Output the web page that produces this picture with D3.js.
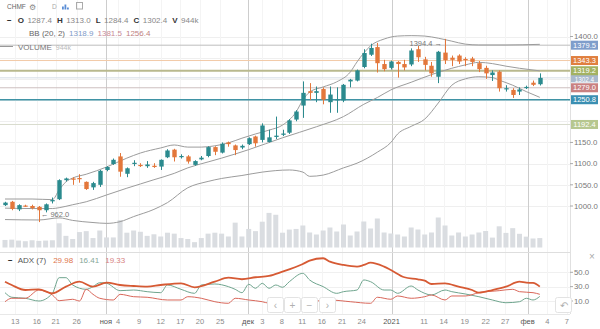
<!DOCTYPE html>
<html><head><meta charset="utf-8">
<script src="https://cdn.jsdelivr.net/npm/d3@7"></script>
<style>
html,body{margin:0;padding:0;background:#fff;}
svg{display:block;font-family:"Liberation Sans",Arial,sans-serif;}
</style></head><body>
<svg id="c" width="600" height="329"></svg>
<script>
// ---------- data ----------
const opens = [1002,1010,992,1001,1000,998,990,1011,1016,1061, 1065,1066,1057,1044,1050,1085,1099,1117,1076,1100, 1097,1094,1095,1093,1115,1133,1117,1117,1097,1110, 1118,1139,1126,1150,1143,1138,1146,1164,1156,1151, 1163,1168,1173,1204,1237,1271,1267,1276,1245,1250, 1249,1294,1296,1328,1357,1375,1335,1326,1340,1335, 1334,1370,1346,1331,1305,1362,1350,1355,1347,1348, 1337,1326,1309,1317,1276,1274,1270,1279,1291,1287.4];
const highs = [1010,1012,1004,1003,1003,1000,1006,1020,1063,1067, 1068,1075,1058,1057,1085,1094,1112,1125,1091,1108, 1101,1106,1101,1110,1134,1135,1122,1120,1108,1118, 1141,1141,1150,1152,1145,1145,1162,1166,1195,1180, 1211,1180,1205,1226,1294,1290,1282,1280,1282,1280, 1288,1300,1322,1370,1383,1385,1345,1343,1342,1345, 1372,1378,1352,1340,1366,1394.4,1355,1358,1351,1352, 1342,1331,1320,1320,1285,1278,1280,1284,1296,1313.0];
const lows = [1000,990,988,998,992,962,985,1006,1014,1058, 1050,1055,1038,1038,1045,1082,1097,1069,1068,1094, 1092,1090,1090,1085,1113,1105,1112,1100,1095,1108, 1115,1120,1124,1140,1120,1134,1144,1140,1150,1150, 1158,1165,1170,1200,1208,1250,1245,1240,1220,1220, 1245,1280,1294,1325,1354,1315,1318,1322,1303,1320, 1330,1340,1320,1305,1290,1335,1330,1335,1330,1330, 1316,1300,1295,1270,1270,1255,1262,1276,1283,1284.4];
const closes = [1008,993,1002,1000,995,990,1004,1014,1061,1065, 1062,1064,1040,1054,1083,1092,1109,1081,1089,1102, 1096,1098,1092,1109,1131,1115,1118,1105,1106,1114, 1139,1128,1147,1146,1132,1142,1160,1148,1190,1162, 1166,1171,1202,1223,1267,1267,1271,1251,1263,1252, 1286,1298,1320,1361,1373,1337,1323,1341,1335,1327, 1367,1351,1333,1313,1364,1344,1345,1341,1346,1340, 1323,1313,1315,1278,1278,1262,1275,1281,1286,1302.4];
const volumes = [755,786,692,629,724,661,692,724,2423,1164, 850,1542,1636,944,1699,1007,1007,2738,1479,1699, 1573,1164,1322,1101,1479,1385,944,850,535,944, 1385,1479,1385,1101,2486,1101,1856,1636,2580,3461, 3273,1479,1793,1856,2200,1500,1300,1700,2000,1600, 2300,1200,1600,2600,1900,2900,1500,1400,1300,1100, 2000,1800,1300,1500,3000,2200,1200,1500,1100,1300, 1500,1650,990,2120,1460,1935,1370,1085,900,944];

// Bollinger (20,2) read at sample bars: [bar index, value]
const bbUpper = [[0,1016.5],[4,1016.5],[7,1015],[8,1038],[9,1057],[10,1066],[12,1075],[15,1092],[18,1113],[20,1125],[23,1137],[25,1144],[27,1139],[29,1139],[31,1142],[33,1149],[35,1160],[37,1170],[39,1179],[41,1191],[43,1222],[44,1250],[45,1269],[47,1281],[49,1293],[51,1316],[52,1340],[53,1361],[54,1378],[56,1394],[58,1401],[60,1402],[62,1401],[64,1396],[66,1389],[68,1382],[70,1380],[74,1380],[79,1381.5]];
const bbMiddle = [[0,995],[4,994],[7,994],[8,996],[10,1003],[12,1010],[15,1026],[18,1042],[20,1052],[22,1062],[25,1077],[27,1090],[30,1104],[32,1113],[36,1133],[41,1161],[46,1187],[50,1211],[53,1240],[55,1256],[57,1274],[60,1292],[63,1310],[66,1325],[68,1333],[70,1339],[72,1336],[74,1330],[76,1325],[79,1318.9]];
const bbLower = [[0,968],[5,967],[8,972],[10,966],[13,961],[15,959],[17,963],[19,975],[22,992],[24,1008],[27,1043],[30,1058],[32,1065],[35,1072],[38,1080],[42,1085],[44,1080],[45,1070],[47,1073],[50,1090],[52,1101],[55,1127],[57,1150],[58,1170],[60,1188],[62,1205],[64,1243],[66,1285],[68,1300],[70,1305],[72,1303],[73,1297],[75,1285],[77,1270],[79,1256.4]];

// ADX (7) read at sample bars
const adxMain = [[0,36.9],[1,32.3],[3,25.3],[5,26.3],[7,20.7],[9,30],[11,36.9],[13,30],[15,35.5],[17,32.3],[19,30.9],[21,30],[23,32.3],[26,34.7],[28,29.1],[31,36.9],[33,42.5],[35,40.3],[37,43.1],[39,44.9],[41,50.9],[44,61.6],[45,66.2],[47,69.6],[48,64.8],[50,60.2],[52,57.9],[53,60.2],[54,63.4],[56,57.9],[57,53.3],[59,43.1],[61,40.3],[62,38.3],[63,33.7],[65,34.7],[67,30],[69,25.3],[70,21.6],[72,25.3],[74,30],[76,36.9],[77,35.5],[78,35.2],[79,29.98]];
const plusDI = [[0,21.6],[1,15.2],[3,13.8],[5,10],[7,20.7],[8,42.5],[9,42.5],[10,32.3],[12,26.3],[13,30],[14,35.5],[15,34.7],[17,24.4],[19,25.3],[21,23],[23,21.6],[24,32.3],[26,26.3],[28,20.7],[29,32.3],[31,33.7],[33,30],[34,26.3],[35,21.6],[36,33.3],[37,27.7],[38,34.7],[39,27.7],[40,32.3],[41,29.1],[42,36.9],[44,48.6],[45,39.3],[47,30],[49,20.7],[50,23],[52,25.3],[53,39.3],[54,36.9],[56,25.3],[57,25.3],[58,20.7],[60,30.9],[61,25.3],[63,18.4],[65,25.3],[66,23],[68,19.8],[70,16],[72,11.4],[74,7.6],[76,9],[77,13.8],[78,11.4],[79,16.41]];
const minusDI = [[0,9],[1,13.8],[3,13.8],[5,25.3],[7,18.4],[8,10.4],[10,12.4],[11,10],[12,26.3],[13,19.3],[14,13.8],[16,11.4],[17,19.3],[19,16],[21,15.2],[24,11.4],[26,11.4],[27,16],[29,13.8],[31,9],[33,6.8],[34,13.8],[36,11.4],[38,9],[39,7],[42,8],[45,9],[48,11.4],[51,9],[54,6.8],[55,15.2],[57,12.4],[58,17],[60,13.8],[62,16],[63,18.4],[65,11.4],[66,17],[68,17],[70,21.6],[73,24.4],[75,26.3],[76,23],[78,21.6],[79,19.33]];

// horizontal levels with right-edge labels
const levelValues = [1302.4,1379.5,1343.3,1319.2,1279.0,1250.8,1192.4];
const levelLine = ["#d5dce6","#bdbdbd","#f2cba8","#b9b98e","#cdbfbf","#3f93a5","#d8dccd"];
const levelBox  = ["#a9b9cc","#7f9dcb","#e07f3f","#a3b262","#c98181","#3b8fb2","#b7c78f"];
const levelWidth = [1,1,1,2,1,1.5,1];

// axis ticks
const priceTicks = [1000,1050,1100,1150,1400];
const priceGrid = [1000,1050,1100,1150,1200,1250,1300,1350,1400];
const adxTicks = [10,30,50];
const xTickLabels = ["13","16","21","26","ноя","4","9","12","17","20","25","дек","3","8","11","16","21","24","2021","11","14","19","22","27","фев","4","7"];
const xTickPos    = [1.5,4.7,7.5,10.6,14.9,16.7,19.8,23.0,25.9,28.8,31.8,35.9,38.0,40.9,43.9,46.8,49.8,52.7,57.1,61.9,64.8,67.9,71.0,73.9,77.2,80.1,83.0];
const monthLabels = ["ноя","дек","2021","фев"];

const lowLabel = {i:5, v:962.0};
const highLabel = {i:65, v:1394.4};

// ---------- drawing ----------
const svg = d3.select('#c');
const R = 570;
const x  = d3.scaleLinear().domain([0,79]).range([5,539.8]);
const y  = d3.scaleLinear().domain([1000,1400]).range([206,36.5]);
const yv = d3.scaleLinear().domain([0,4000]).range([247.5,207.5]);
const ya = d3.scaleLinear().domain([10,50]).range([301,272.3]);
const UP="#2b8a8e", DN="#e3773b";

// grids
const g = svg.append('g');
g.selectAll('.hg').data(priceGrid).join('line')
  .attr('x1',0).attr('x2',R).attr('y1',d=>Math.round(y(d))+.5).attr('y2',d=>Math.round(y(d))+.5)
  .attr('stroke','#efefef');
g.selectAll('.ag').data(adxTicks).join('line')
  .attr('x1',0).attr('x2',R).attr('y1',d=>Math.round(ya(d))+.5).attr('y2',d=>Math.round(ya(d))+.5)
  .attr('stroke','#f0f0f0');
const ticks = xTickLabels.map((t,k)=>({t, p:xTickPos[k], m:monthLabels.includes(t)}));
g.selectAll('.vg').data(ticks.filter(d=>!d.m && x(d.p)<R)).join('line')
  .attr('x1',d=>Math.round(x(d.p))+.5).attr('x2',d=>Math.round(x(d.p))+.5)
  .attr('y1',0).attr('y2',314).attr('stroke','#f4f4f4');
g.selectAll('.mg').data(ticks.filter(d=>d.m)).join('line')
  .attr('x1',d=>Math.round(x(d.p))+.5).attr('x2',d=>Math.round(x(d.p))+.5)
  .attr('y1',0).attr('y2',314).attr('stroke','#cdcdcd');

// pane borders
svg.append('line').attr('x1',0).attr('x2',R).attr('y1',252.5).attr('y2',252.5).attr('stroke','#dedede');
svg.append('line').attr('x1',0).attr('x2',R).attr('y1',314.5).attr('y2',314.5).attr('stroke','#e8e8e8');
svg.append('line').attr('x1',R+.5).attr('x2',R+.5).attr('y1',0).attr('y2',314).attr('stroke','#e0e0e0');

// volume
svg.append('g').selectAll('rect').data(volumes).join('rect')
  .attr('x',(d,i)=>x(i)-2.5).attr('width',5)
  .attr('y',d=>yv(d)).attr('height',d=>yv(0)-yv(d)).attr('fill','#dadde1');

// level lines
svg.append('g').selectAll('line').data(levelValues).join('line')
  .attr('x1',0).attr('x2',R).attr('y1',d=>y(d)).attr('y2',d=>y(d))
  .attr('stroke',(d,k)=>levelLine[k]).attr('stroke-width',(d,k)=>levelWidth[k]);

// bollinger
const bbl = d3.line().x(d=>x(d[0])).y(d=>y(d[1])).curve(d3.curveMonotoneX);
[bbUpper,bbMiddle,bbLower].forEach(s=>{
  svg.append('path').attr('d',bbl(s)).attr('fill','none').attr('stroke','#9c9c9c').attr('stroke-width',1);
});

// candles
const cd = opens.map((o,i)=>({i,o,h:highs[i],l:lows[i],c:closes[i]}));
const cg = svg.append('g');
cg.selectAll('line').data(cd).join('line')
  .attr('x1',d=>Math.round(x(d.i))+.5).attr('x2',d=>Math.round(x(d.i))+.5)
  .attr('y1',d=>y(d.h)).attr('y2',d=>y(d.l))
  .attr('stroke',d=>d.c>=d.o?UP:DN);
cg.selectAll('rect').data(cd).join('rect')
  .attr('x',d=>Math.round(x(d.i))-1.7).attr('width',4.4)
  .attr('y',d=>y(Math.max(d.o,d.c))).attr('height',d=>Math.max(1.2,Math.abs(y(d.o)-y(d.c))))
  .attr('fill',d=>d.c>=d.o?UP:DN);

// high / low annotations
svg.append('text').attr('x',x(lowLabel.i)+2).attr('y',y(lowLabel.v)-7.5).attr('dy','0.35em')
  .attr('font-size',7.5).attr('fill','#777').text('← '+lowLabel.v.toFixed(1));
svg.append('text').attr('x',x(highLabel.i)-3).attr('y',y(highLabel.v)+5).attr('dy','0.35em')
  .attr('text-anchor','end').attr('font-size',7.5).attr('fill','#777').text(highLabel.v.toFixed(1)+' →');

// ADX lines
const al = d3.line().x(d=>x(d[0])).y(d=>ya(d[1])).curve(d3.curveMonotoneX);
svg.append('path').attr('d',al(plusDI)).attr('fill','none').attr('stroke','#6fa58e').attr('stroke-width',1);
svg.append('path').attr('d',al(minusDI)).attr('fill','none').attr('stroke','#d9675a').attr('stroke-width',1);
svg.append('path').attr('d',al(adxMain)).attr('fill','none').attr('stroke','#d65a34').attr('stroke-width',1.8);

// right price axis
const ax = svg.append('g');
ax.selectAll('line').data(priceTicks).join('line')
  .attr('x1',R).attr('x2',R+3).attr('y1',d=>y(d)).attr('y2',d=>y(d)).attr('stroke','#aaa');
ax.selectAll('text').data(priceTicks).join('text')
  .attr('x',R+4).attr('y',d=>y(d)).attr('dy','0.35em').attr('font-size',7.8).attr('fill','#777')
  .text(d=>d.toFixed(1));
const ax2 = svg.append('g');
ax2.selectAll('line').data(adxTicks).join('line')
  .attr('x1',R).attr('x2',R+3).attr('y1',d=>ya(d)).attr('y2',d=>ya(d)).attr('stroke','#aaa');
ax2.selectAll('text').data(adxTicks).join('text')
  .attr('x',R+4).attr('y',d=>ya(d)).attr('dy','0.35em').attr('font-size',7.8).attr('fill','#777')
  .text(d=>d.toFixed(1));

// level label boxes (first one = last price, partly covered by the next box)
const lb = svg.append('g').selectAll('g').data(levelValues).join('g');
lb.append('rect').attr('x',R+1).attr('width',27).attr('y',d=>y(d)-4.5).attr('height',9)
  .attr('fill',(d,k)=>levelBox[k]);
lb.append('text').attr('x',R+14.5).attr('y',(d,k)=>y(d)+(k===0?1.8:0)).attr('dy','0.35em').attr('text-anchor','middle')
  .attr('font-size',(d,k)=>k===0?6.3:7.5).attr('fill','#fff').text(d=>d.toFixed(1));

// bottom axis labels
svg.append('g').selectAll('text').data(ticks).join('text')
  .attr('x',d=>x(d.p)).attr('y',321).attr('dy','0.35em').attr('text-anchor','middle')
  .attr('font-size',7.5).attr('fill',d=>d.m?'#555':'#8a8a8a').text(d=>d.t);

// legends
function row(items,x0,yb){
  let cx=x0;
  items.forEach(it=>{
    const t=svg.append('text').attr('x',cx).attr('y',yb).attr('font-size',it.s||8)
      .attr('fill',it.c).attr('font-weight',it.b?'bold':null).text(it.t);
    cx += t.node().getComputedTextLength() + (it.g==null?4:it.g);
  });
}
row([{t:'CHMF',c:'#666',s:6.5}],7,9);
row([{t:'⚙',c:'#888',s:8}],29,9.5);
row([{t:'D',c:'#aaa',s:6.5}],52,9);
svg.append('g').selectAll('rect').data([3,5,2]).join('rect')
  .attr('x',(d,k)=>62+k*2.5).attr('width',1.8).attr('y',d=>9.5-d).attr('height',d=>d).attr('fill','#5b8ed6');
svg.append('rect').attr('x',76.5).attr('y',2.5).attr('width',6).attr('height',6.5).attr('fill','none').attr('stroke','#aaa');

const last = 79;
row([{t:'−',c:'#222',b:1,g:6},{t:'O',c:'#333',b:1,g:3.5},{t:opens[last].toFixed(1),c:'#888',g:5},
     {t:'H',c:'#333',b:1,g:3.5},{t:highs[last].toFixed(1),c:'#888',g:5},
     {t:'L',c:'#333',b:1,g:3.5},{t:lows[last].toFixed(1),c:'#888',g:5},
     {t:'C',c:'#333',b:1,g:3.5},{t:closes[last].toFixed(1),c:'#888',g:5},
     {t:'V',c:'#333',b:1,g:3.5},{t:volumes[last]+'k',c:'#888'}],7,22.5);
row([{t:'BB (20, 2)',c:'#666'},{t:bbMiddle[bbMiddle.length-1][1].toFixed(1),c:'#7f9cc8'},
     {t:bbUpper[bbUpper.length-1][1].toFixed(1),c:'#c98a95'},{t:bbLower[bbLower.length-1][1].toFixed(1),c:'#c07f7f'}],29,36);
svg.append('line').attr('x1',0).attr('x2',13).attr('y1',46.5).attr('y2',46.5).attr('stroke','#999');
row([{t:'VOLUME',c:'#777'},{t:volumes[last]+'k',c:'#bbb',s:7}],18,49.5);

row([{t:'−',c:'#222',b:1,g:5},{t:'ADX (7)',c:'#555',g:7},
     {t:adxMain[adxMain.length-1][1].toFixed(2),c:'#e0764c',g:6},
     {t:plusDI[plusDI.length-1][1].toFixed(2),c:'#86a797',g:6},
     {t:minusDI[minusDI.length-1][1].toFixed(2),c:'#d88383'}],8,263);
svg.append('text').attr('x',592).attr('y',256).attr('dy','0.35em').attr('text-anchor','middle')
  .attr('font-size',10).attr('fill','#aaa').text('×');

// chart navigation buttons
const btns = [{bx:267,t:'‹'},{bx:284,t:'+'},{bx:301,t:'−'},{bx:319,t:'›'},{bx:555,t:'↶'}];
const bg = svg.append('g').selectAll('g').data(btns).join('g');
bg.append('rect').attr('x',d=>d.bx+.5).attr('y',297.5).attr('width',16).attr('height',15).attr('rx',2)
  .attr('fill','#fff').attr('stroke','#e3e3e3');
bg.append('text').attr('x',d=>d.bx+8.5).attr('y',305).attr('dy','0.35em').attr('text-anchor','middle')
  .attr('font-size',10).attr('fill','#b0b0b0').text(d=>d.t);
</script>
</body></html>
